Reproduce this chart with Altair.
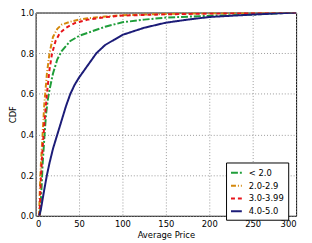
import altair as alt
import pandas as pd

series_names = ["< 2.0", "2.0-2.9", "3.0-3.99", "4.0-5.0"]
series_colors = ["#1f9e3a", "#d4880c", "#e8141b", "#1c1c78"]
series_dashes = [[7, 2, 2, 2], [5, 2, 1, 2], [4, 3], [1, 0]]
series_widths = [2, 2, 2, 1.5]

green_x = [5, 7, 8, 10, 12, 14, 16, 20, 25, 30, 40, 50, 60, 80, 100, 125, 150, 200, 250, 300]
green_y = [0.0, 0.15, 0.25, 0.38, 0.5, 0.57, 0.62, 0.7, 0.77, 0.81, 0.86, 0.885, 0.9, 0.93, 0.952, 0.965, 0.975, 0.984, 0.99, 1.0]

orange_x = [4, 5, 6, 8, 10, 11, 13, 16, 20, 25, 30, 40, 50, 60, 80, 100, 150, 200, 250, 300]
orange_y = [0.0, 0.15, 0.25, 0.4, 0.55, 0.6, 0.7, 0.8, 0.88, 0.92, 0.94, 0.955, 0.965, 0.972, 0.98, 0.987, 0.993, 0.996, 0.998, 1.0]

red_x = [4.5, 6, 8, 10, 13, 16, 19, 23, 28, 35, 45, 60, 80, 100, 150, 200, 250, 300]
red_y = [0.0, 0.18, 0.33, 0.45, 0.6, 0.72, 0.8, 0.86, 0.9, 0.925, 0.948, 0.965, 0.977, 0.985, 0.991, 0.995, 0.998, 1.0]

blue_x = [4, 6, 8, 10, 13, 16, 20, 25, 30, 35, 40, 45, 50, 60, 70, 80, 90, 100, 125, 150, 175, 200, 250, 300]
blue_y = [0.0, 0.03, 0.08, 0.13, 0.2, 0.26, 0.33, 0.4, 0.47, 0.54, 0.6, 0.645, 0.68, 0.74, 0.8, 0.84, 0.865, 0.89, 0.925, 0.95, 0.965, 0.978, 0.99, 1.0]

x_ticks = [0, 50, 100, 150, 200, 250, 300]
y_ticks = [0.0, 0.2, 0.4, 0.6, 0.8, 1.0]

rows = []
for name, xs, ys in zip(series_names, [green_x, orange_x, red_x, blue_x], [green_y, orange_y, red_y, blue_y]):
    for i, (xv, yv) in enumerate(zip(xs, ys)):
        rows.append({"series": name, "price": xv, "cdf": yv, "order": i})
df = pd.DataFrame(rows)

font = "DejaVu Sans"

chart = alt.Chart(df).mark_line(clip=True).encode(
    x=alt.X("price:Q", scale=alt.Scale(domain=[0, 300], nice=False),
            axis=alt.Axis(title="Average Price", values=x_ticks, grid=True,
                          gridDash=[1, 2], gridColor="#999999", tickSize=0,
                          domain=False, labelFontSize=8.5,
                          titleFontSize=8.5, titleFontWeight="normal",
                          labelFont=font, titleFont=font, labelColor="black",
                          titleColor="black", labelPadding=4, titlePadding=3)),
    y=alt.Y("cdf:Q", scale=alt.Scale(domain=[0, 1], nice=False),
            axis=alt.Axis(title="CDF", values=y_ticks, format=".1f", grid=True,
                          gridDash=[1, 2], gridColor="#999999", tickSize=0,
                          domain=False, labelFontSize=8.5,
                          titleFontSize=8.5, titleFontWeight="normal",
                          labelFont=font, titleFont=font, labelColor="black",
                          titleColor="black", labelPadding=2, titleX=-18,
                          titleY=103)),
    color=alt.Color("series:N", sort=series_names,
                    scale=alt.Scale(domain=series_names, range=series_colors),
                    legend=alt.Legend(title=None, orient="none", legendX=193, legendY=152,
                                      symbolType="stroke", symbolStrokeWidth=2,
                                      symbolSize=120, labelFontSize=8.5, labelFont=font,
                                      labelColor="black", strokeColor="black",
                                      fillColor="white", padding=4, rowPadding=2,
                                      labelOffset=6, cornerRadius=0)),
    strokeDash=alt.StrokeDash("series:N", sort=series_names,
                              scale=alt.Scale(domain=series_names, range=series_dashes),
                              legend=None),
    strokeWidth=alt.StrokeWidth("series:N", sort=series_names,
                                scale=alt.Scale(domain=series_names, range=series_widths),
                                legend=None),
    order="order:Q",
).properties(
    width=264, height=206,
    autosize=alt.AutoSizeParams(type="none"),
    padding={"left": 28, "top": 3, "right": 8, "bottom": 26},
).configure_view(stroke="black", strokeWidth=1)

chart.save("out.html", embed_options={"renderer": "svg", "actions": False})
